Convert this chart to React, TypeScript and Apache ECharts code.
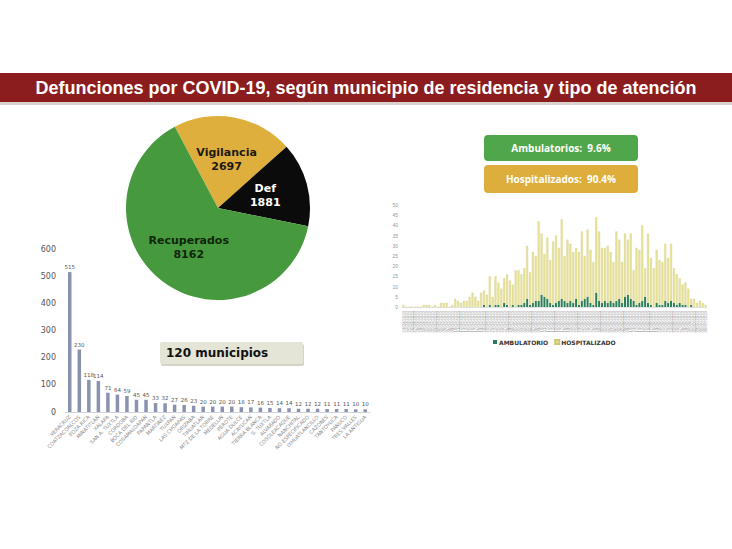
import React, { useEffect, useRef } from "react";
import * as echarts from "echarts";

const TITLE = "Defunciones por COVID-19, según municipio de residencia y tipo de atención";

const pieNames = ["Vigilancia", "Def", "Recuperados"];
const pieValues = [2697, 1881, 8162];

const municipios = [
  "VERACRUZ", "COATZACOALCOS", "POZA RICA", "MINATITLAN", "XALAPA", "SAN A. TUXTLA",
  "CORDOBA", "BOCA DEL RIO", "COSAMALOAPAN", "PAPANTLA", "MARTINEZ", "TUXPAN",
  "LAS CHOAPAS", "ORIZABA", "TIHUATLAN", "MTZ DE LA TORRE", "MEDELLIN", "PEROTE",
  "AGUA DULCE", "ACAYUCAN", "TIERRA BLANCA", "S. TUXTLA", "ALVARADO", "COSOLEACAQUE",
  "NANCHITAL", "NO ESPECIFICADO", "IXHUATLANCILLO", "CAZONES", "TANTOYUCA", "PANUCO",
  "TRES VALLES", "LA ANTIGUA"
];
const defMunicipio = [
  515, 230, 118, 114, 71, 64, 59, 45, 45, 33, 32, 27, 26, 23, 20, 20,
  20, 20, 18, 17, 16, 15, 14, 14, 12, 12, 12, 11, 11, 11, 10, 10
];
const barTicks = [0, 100, 200, 300, 400, 500, 600];

const fechas = [
  "23/03/2020", "24/03/2020", "25/03/2020", "26/03/2020", "27/03/2020", "28/03/2020", "29/03/2020", "30/03/2020", "31/03/2020",
  "01/04/2020", "02/04/2020", "03/04/2020", "04/04/2020", "05/04/2020", "06/04/2020", "07/04/2020", "08/04/2020", "09/04/2020", "10/04/2020",
  "11/04/2020", "12/04/2020", "13/04/2020", "14/04/2020", "15/04/2020", "16/04/2020", "17/04/2020", "18/04/2020", "19/04/2020", "20/04/2020",
  "21/04/2020", "22/04/2020", "23/04/2020", "24/04/2020", "25/04/2020", "26/04/2020", "27/04/2020", "28/04/2020", "29/04/2020", "30/04/2020",
  "01/05/2020", "02/05/2020", "03/05/2020", "04/05/2020", "05/05/2020", "06/05/2020", "07/05/2020", "08/05/2020", "09/05/2020", "10/05/2020",
  "11/05/2020", "12/05/2020", "13/05/2020", "14/05/2020", "15/05/2020", "16/05/2020", "17/05/2020", "18/05/2020", "19/05/2020", "20/05/2020",
  "21/05/2020", "22/05/2020", "23/05/2020", "24/05/2020", "25/05/2020", "26/05/2020", "27/05/2020", "28/05/2020", "29/05/2020", "30/05/2020", "31/05/2020",
  "01/06/2020", "02/06/2020", "03/06/2020", "04/06/2020", "05/06/2020", "06/06/2020", "07/06/2020", "08/06/2020", "09/06/2020", "10/06/2020",
  "11/06/2020", "12/06/2020", "13/06/2020", "14/06/2020", "15/06/2020", "16/06/2020", "17/06/2020", "18/06/2020", "19/06/2020", "20/06/2020",
  "21/06/2020", "22/06/2020", "23/06/2020", "24/06/2020", "25/06/2020", "26/06/2020", "27/06/2020", "28/06/2020", "29/06/2020", "30/06/2020",
  "01/07/2020", "02/07/2020", "03/07/2020", "04/07/2020", "05/07/2020", "06/07/2020"
];

const ambulatorio = [
  0, 0, 0, 0, 0, 0, 0, 0, 0, 0, 0, 0, 0, 0, 0, 0, 0, 0,
  0, 0, 0, 0, 0, 0, 0, 0, 0, 0, 1, 0, 1, 0, 1, 1, 0, 2, 1, 0, 1, 0, 1, 1, 2, 4, 1, 2, 3,
  3, 6, 5,
  4, 2, 1, 2, 3, 4, 3, 2, 3, 2, 4, 1, 3, 4, 5, 2, 1, 7, 3, 2,
  3, 2, 3, 2, 3, 4, 2, 5, 6, 4, 3, 1, 2, 3, 5, 2, 1, 0, 2, 1,
  1, 3, 2, 3, 2, 1, 2, 1, 1, 0, 1, 0, 0, 0, 0, 0
];
const hospitalizado = [
  1, 0, 0, 0, 0, 0, 0, 1, 1, 1, 0, 1, 0, 2, 2, 2, 0, 1,
  4, 3, 2, 3, 3, 5, 7, 5, 3, 7, 7, 6, 14, 5, 14, 11, 9, 12, 15, 13, 10, 18, 17, 15, 17, 26, 16, 25, 22,
  39, 30, 21,
  30, 21, 31, 33, 26, 39, 22, 31, 28, 25, 25, 26, 34, 21, 33, 26, 21, 37, 34, 27,
  26, 28, 24, 20, 34, 29, 20, 31, 27, 32, 15, 28, 26, 37, 14, 34, 23, 19, 26, 22,
  21, 28, 22, 28, 17, 15, 12, 10, 11, 9, 3, 4, 2, 3, 2, 1
];

const boxAmb = "Ambulatorios:  9.6%";
const boxHosp = "Hospitalizados:  90.4%";
const boxMun = "120 municipios";

export default function App() {
  const ref = useRef<HTMLDivElement>(null);
  useEffect(() => {
    document.body.style.margin = "0";
    const chart = echarts.init(ref.current!, null, { renderer: "svg" });
    const pieColors = ["#dfaf3d", "#0b0b0b", "#47993e"];
    const pieLabelColors = ["#1d1a10", "#ffffff", "#10260c"];
    chart.setOption({
      animation: false,
      backgroundColor: "#ffffff",
      graphic: [
        { type: "rect", shape: { x: 0, y: 102, width: 732, height: 3 }, style: { fill: "#d9d2cf" } },
        { type: "rect", shape: { x: 0, y: 73, width: 732, height: 29 }, style: { fill: "#8c1d1f" } },
        {
          type: "text", x: 366, y: 88,
          style: { text: TITLE, fill: "#ffffff", font: "bold 18px 'Liberation Sans', Arial, sans-serif", textAlign: "center", textVerticalAlign: "middle" }
        },
        { type: "rect", shape: { x: 161, y: 344, width: 143, height: 22, r: 2 }, style: { fill: "#d4d4c6" } },
        { type: "rect", shape: { x: 160, y: 342, width: 143, height: 22, r: 2 }, style: { fill: "#e4e5d6" } },
        {
          type: "text", x: 166, y: 353,
          style: { text: boxMun, fill: "#111111", font: "bold 12px 'DejaVu Sans', sans-serif", textAlign: "left", textVerticalAlign: "middle" }
        },
        { type: "rect", shape: { x: 484, y: 135, width: 154, height: 26, r: 4 }, style: { fill: "#50a74b" } },
        {
          type: "text", x: 561, y: 148,
          style: { text: boxAmb, fill: "#ffffff", font: "bold 10px 'Open Sans', sans-serif", textAlign: "center", textVerticalAlign: "middle" }
        },
        { type: "rect", shape: { x: 484, y: 165, width: 154, height: 28, r: 4 }, style: { fill: "#deae3c" } },
        {
          type: "text", x: 561, y: 179,
          style: { text: boxHosp, fill: "#ffffff", font: "bold 10px 'Open Sans', sans-serif", textAlign: "center", textVerticalAlign: "middle" }
        }
      ],
      legend: {
        data: ["AMBULATORIO", "HOSPITALIZADO"],
        left: 488, top: 334,
        itemWidth: 4, itemHeight: 4, itemGap: 6,
        icon: "rect",
        textStyle: { fontSize: 6, fontWeight: "bold", color: "#333", fontFamily: "'DejaVu Sans', sans-serif", padding: [0, 0, 0, -3] }
      },
      grid: [
        { left: 65, top: 249, width: 305, height: 163 },
        { left: 402, top: 205, width: 305, height: 102 }
      ],
      xAxis: [
        {
          gridIndex: 0, type: "category", data: municipios,
          axisLine: { lineStyle: { color: "#d0d4dc" } },
          axisTick: { show: false },
          axisLabel: { interval: 0, rotate: 45, fontSize: 5, color: "#888", fontFamily: "'DejaVu Sans', sans-serif", margin: 4 }
        },
        {
          gridIndex: 1, type: "category", data: fechas,
          axisLine: { lineStyle: { color: "#e2e2e2" } },
          axisTick: { show: false },
          axisLabel: { interval: 0, rotate: 90, fontSize: 4.3, color: "#999", margin: 4 }
        }
      ],
      yAxis: [
        {
          gridIndex: 0, type: "value", min: barTicks[0], max: barTicks[barTicks.length - 1], interval: 100,
          splitLine: { show: false }, axisLine: { show: false }, axisTick: { show: false },
          axisLabel: { fontSize: 8, color: "#555", fontFamily: "'DejaVu Sans', sans-serif", margin: 9 }
        },
        {
          gridIndex: 1, type: "value", min: 0, max: 50, interval: 5,
          splitLine: { show: false }, axisLine: { show: false }, axisTick: { show: false },
          axisLabel: { fontSize: 5, color: "#999", margin: 4 }
        }
      ],
      series: [
        {
          type: "pie", center: [218, 208], radius: 92, startAngle: 118, clockwise: true,
          label: {
            show: true, position: "inside", formatter: "{b}\n{c}",
            fontSize: 11, fontWeight: "bold", fontFamily: "'DejaVu Sans', sans-serif", lineHeight: 14
          },
          labelLine: { show: false },
          data: pieNames.map((n, i) => ({
            name: n, value: pieValues[i],
            itemStyle: { color: pieColors[i] },
            label: { color: pieLabelColors[i] }
          }))
        },
        {
          type: "bar", xAxisIndex: 0, yAxisIndex: 0, data: defMunicipio, barWidth: 3.5,
          itemStyle: { color: "#8a92b0" },
          label: { show: true, position: "top", distance: 2, fontSize: 5.5, color: "#555", fontFamily: "'DejaVu Sans', sans-serif" }
        },
        {
          name: "AMBULATORIO", type: "bar", xAxisIndex: 1, yAxisIndex: 1, stack: "t", data: ambulatorio,
          barCategoryGap: "30%",
          itemStyle: { color: "#2d7d57" }
        },
        {
          name: "HOSPITALIZADO", type: "bar", xAxisIndex: 1, yAxisIndex: 1, stack: "t", data: hospitalizado,
          barCategoryGap: "30%",
          itemStyle: { color: "#e8e39a", borderColor: "#cfc778", borderWidth: 0.3 }
        }
      ]
    });
    return () => chart.dispose();
  }, []);
  return <div ref={ref} style={{ position: "fixed", left: 0, top: 0, width: 732, height: 549 }} />;
}
